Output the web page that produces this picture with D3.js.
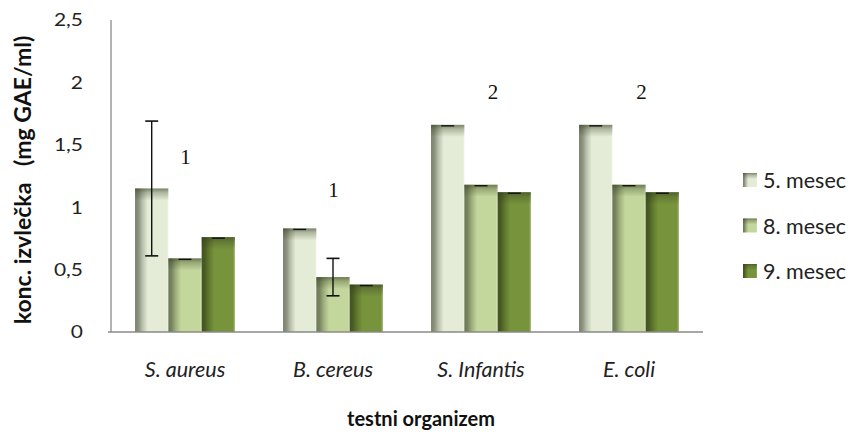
<!DOCTYPE html>
<html><head><meta charset="utf-8">
<script src="https://cdn.jsdelivr.net/npm/d3@7"></script>
<style>
body{margin:0;background:#fff;}
svg{display:block;}
</style></head>
<body><svg id="c" width="855" height="432"></svg>
<script>
const categories = ["S. aureus","B. cereus","S. Infantis","E. coli"];
const seriesNames = ["5. mesec","8. mesec","9. mesec"];
const mesec5 = [1.15, 0.83, 1.66, 1.66];
const mesec8 = [0.59, 0.44, 1.18, 1.18];
const mesec9 = [0.76, 0.38, 1.12, 1.12];
const err5 = [0.54, 0, 0, 0];
const err8 = [0, 0.15, 0, 0];
const err9 = [0, 0, 0, 0];
const groupLabels = ["1","1","2","2"];
const groupLabelValues = [1.35, 1.08, 1.87, 1.87];
const yTicks = [0, 0.5, 1, 1.5, 2, 2.5];
const colors = ["#e4ebd6","#c3d69b","#77933c"];
const edgeColors = ["#737a66","#66714f","#3f501c"];

const series = [mesec5, mesec8, mesec9];
const errs = [err5, err8, err9];

const svg = d3.select("#c");
const font = "Lato, 'Open Sans', sans-serif";

const x0 = d3.scaleBand().domain(categories).range([111, 703]).paddingInner(0.325).paddingOuter(0.1625);
const x1 = d3.scaleBand().domain(seriesNames).range([0, x0.bandwidth()]);
const y = d3.scaleLinear().domain([0, 2.5]).range([332, 20]);

const defs = svg.append("defs");
colors.forEach((c, i) => {
  const mix = d3.interpolateRgb(edgeColors[i], c);
  const g = defs.append("linearGradient").attr("id", "h" + i).attr("x1", "0").attr("x2", "1").attr("y1", "0").attr("y2", "0");
  g.append("stop").attr("offset", "0").attr("stop-color", mix(0.05));
  g.append("stop").attr("offset", "0.1").attr("stop-color", mix(0.2));
  g.append("stop").attr("offset", "0.22").attr("stop-color", mix(0.6));
  g.append("stop").attr("offset", "0.38").attr("stop-color", c);
  g.append("stop").attr("offset", "0.94").attr("stop-color", c);
  g.append("stop").attr("offset", "1").attr("stop-color", d3.interpolateRgb(c, "#ffffff")(0.35));
});
const vg = defs.append("linearGradient").attr("id", "vtop").attr("x1", "0").attr("x2", "0").attr("y1", "0").attr("y2", "1");
vg.append("stop").attr("offset", "0").attr("stop-color", "#323d20").attr("stop-opacity", 0.6);
vg.append("stop").attr("offset", "0.35").attr("stop-color", "#323d20").attr("stop-opacity", 0.3);
vg.append("stop").attr("offset", "1").attr("stop-color", "#323d20").attr("stop-opacity", 0);

// y axis line
svg.append("line").attr("x1", 111).attr("x2", 111).attr("y1", y(2.5)).attr("y2", y(0)).attr("stroke", "#8a8a8a").attr("stroke-width", 1.3);

// y tick labels
const yAxis = d3.axisLeft(y).tickValues(yTicks).tickSize(0).tickPadding(0)
  .tickFormat(d => d3.format("")(d).replace(".", ","));
const ya = svg.append("g").attr("transform", "translate(83,0)").call(yAxis);
ya.select(".domain").remove();
ya.selectAll("text").attr("font-family", font).attr("font-size", 16.5).attr("fill", "#222")
  .attr("dy", "0.36em").attr("transform", "scale(1.27,1)");

// bars
const groups = svg.selectAll("g.grp").data(categories).enter().append("g")
  .attr("class", "grp").attr("transform", d => `translate(${x0(d)},0)`);

seriesNames.forEach((s, si) => {
  groups.each(function(cat, ci) {
    const g = d3.select(this);
    const v = series[si][ci];
    const bx = x1(s), bw = x1.bandwidth();
    g.append("rect").attr("x", bx).attr("y", y(v)).attr("width", bw).attr("height", y(0) - y(v))
      .attr("fill", `url(#h${si})`);
    g.append("rect").attr("x", bx).attr("y", y(v)).attr("width", bw).attr("height", Math.min(12, y(0) - y(v)))
      .attr("fill", "url(#vtop)");
  });
});

// x axis line
svg.append("line").attr("x1", 108).attr("x2", 703).attr("y1", y(0)).attr("y2", y(0)).attr("stroke", "#8a8a8a").attr("stroke-width", 1.5);

// error bars
seriesNames.forEach((s, si) => {
  groups.each(function(cat, ci) {
    const g = d3.select(this);
    const v = series[si][ci], e = errs[si][ci];
    const cx = x1(s) + x1.bandwidth() / 2;
    const capW = 6.5;
    if (e > 0) {
      g.append("line").attr("x1", cx).attr("x2", cx).attr("y1", y(v + e)).attr("y2", y(v - e)).attr("stroke", "#111").attr("stroke-width", 1.4);
      [v + e, v - e].forEach(t => g.append("line").attr("x1", cx - capW).attr("x2", cx + capW).attr("y1", y(t)).attr("y2", y(t)).attr("stroke", "#111").attr("stroke-width", 1.6));
    } else {
      g.append("line").attr("x1", cx - capW).attr("x2", cx + capW).attr("y1", y(v) + 1).attr("y2", y(v) + 1).attr("stroke", "#111").attr("stroke-width", 1.4);
    }
  });
});

// group annotations (S. Infantis / E. coli labels sit slightly right of the group centre)
const labelNudge = [0.5, 0.5, 12, 12.5];
groups.append("text").attr("x", (d, i) => x0.bandwidth() / 2 + labelNudge[i]).attr("y", (d, i) => y(groupLabelValues[i]))
  .attr("text-anchor", "middle").attr("font-family", "'Liberation Serif', serif").attr("font-size", 21).attr("fill", "#111")
  .text((d, i) => groupLabels[i]);

// x category labels
const xAxis = d3.axisBottom(x0).tickSize(0).tickPadding(0);
const xa = svg.append("g").attr("transform", "translate(0,377)").call(xAxis);
xa.select(".domain").remove();
xa.selectAll("text").attr("font-family", font).attr("font-size", 21.5).attr("font-style", "italic").attr("fill", "#222")
  .attr("y", 0).attr("dy", 0);

// axis titles
svg.append("text").attr("x", 421).attr("y", 426).attr("text-anchor", "middle")
  .attr("font-family", font).attr("font-size", 20).attr("font-weight", "bold").attr("fill", "#111").text("testni organizem");
svg.append("text").attr("transform", "translate(31,180) rotate(-90)").attr("text-anchor", "middle")
  .attr("font-family", font).attr("font-size", 23).attr("font-weight", "bold").attr("fill", "#111")
  .attr("xml:space", "preserve").style("white-space", "pre")
  .text("konc. izvlečka   (mg GAE/ml)");

// legend
const leg = svg.append("g").attr("transform", "translate(743,0)");
seriesNames.forEach((s, i) => {
  const yy = 180 + i * 45.5;
  leg.append("rect").attr("x", 0).attr("y", yy - 7).attr("width", 14).attr("height", 14).attr("fill", `url(#h${i})`);
  leg.append("rect").attr("x", 0).attr("y", yy - 7).attr("width", 14).attr("height", 6).attr("fill", "url(#vtop)");
  leg.append("text").attr("x", 20).attr("y", yy + 8).attr("font-family", font).attr("font-size", 21.5).attr("fill", "#222").text(s);
});
</script></body></html>
